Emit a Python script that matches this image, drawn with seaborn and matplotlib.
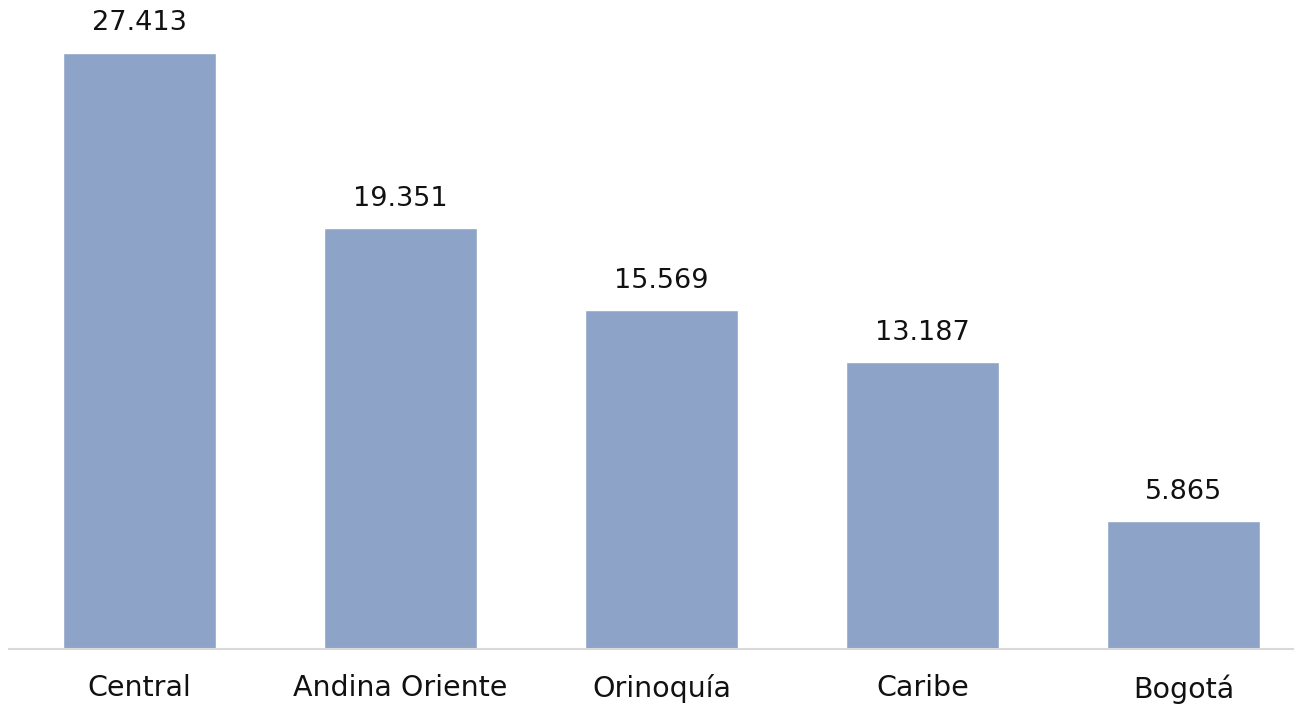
import matplotlib
matplotlib.use("Agg")
import matplotlib.pyplot as plt
import pandas as pd
import seaborn as sns

regions = ["Central", "Andina Oriente", "Orinoquía", "Caribe", "Bogotá"]
values = [27.413, 19.351, 15.569, 13.187, 5.865]
labels = ["27.413", "19.351", "15.569", "13.187", "5.865"]

BAR = "#8ea3c8"

sns.set_theme(style="white")
plt.rcParams["font.family"] = ["DejaVu Sans"]

df = pd.DataFrame({"region": regions, "value": values})

fig = plt.figure(figsize=(12.94, 7.07), dpi=100)
ax = fig.add_axes([9 / 1294, 58 / 707, 1285 / 1294, 649 / 707])
sns.barplot(data=df, x="region", y="value", color=BAR, width=0.586,
            saturation=1, ax=ax)

for i, (v, lab) in enumerate(zip(values, labels)):
    ax.annotate(lab, (i, v), xytext=(0, 12), textcoords="offset points",
                ha="center", va="bottom", fontsize=19.5, color="#111111")

ax.set_xlim(-0.5, 4.423)
ax.set_ylim(0, 29.85)
ax.set_xlabel("")
ax.set_ylabel("")
ax.set_yticks([])
ax.tick_params(axis="x", length=0, pad=18, labelsize=20.5, labelcolor="#111111")
for side in ("top", "right", "left"):
    ax.spines[side].set_visible(False)
ax.spines["bottom"].set_color("#d9d9d9")
ax.spines["bottom"].set_linewidth(1.5)

fig.savefig("out.png", dpi=100)
